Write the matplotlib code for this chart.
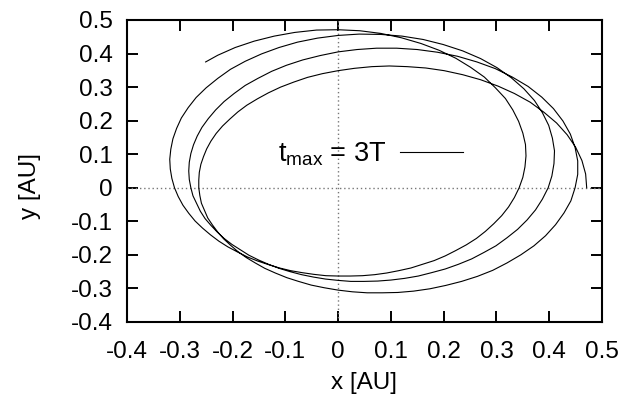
import numpy as np
import matplotlib
matplotlib.use("Agg")
import matplotlib.pyplot as plt

# Orbit trace, in milli-AU
orbit_x_mau = [471,469,462,450,434,414,390,364,334,303,270,236,201,166,131,97,64,31,0,-30,-58,-84,-109,-132,-153,-173,-190,-205,-219,-231,-241,-249,-255,-260,-263,-264,-264,-262,-259,-253,-247,-238,-228,-217,-204,-190,-174,-157,-139,-119,-97,-75,-51,-26,0,27,55,84,113,143,174,204,234,264,293,320,346,371,393,412,428,441,449,454,454,449,440,426,408,386,360,330,298,263,226,188,150,111,73,36,0,-34,-67,-98,-126,-152,-176,-197,-216,-232,-246,-258,-267,-274,-279,-282,-283,-282,-279,-275,-268,-261,-252,-241,-229,-216,-201,-185,-169,-151,-132,-112,-91,-69,-47,-24,0,24,49,75,100,126,152,177,203,228,253,276,299,320,340,358,374,387,398,405,409,410,406,399,387,372,352,328,301,270,236,199,161,121,81,40,0,-39,-77,-112,-145,-176,-204,-228,-250,-269,-284,-297,-306,-313,-317,-319,-318,-315,-310,-303,-294,-283,-271,-257,-242,-226,-209,-191,-172,-153,-132,-111,-90,-68,-46,-23,0,23,46,69,92,115,138,160,182,203,223,243,262,279,295,310,323,334,343,350,354,356,355,350,342,331,317,298,277,251,223,191,157,120,81,41,0,-41,-82,-121,-159,-195,-228,-251]
orbit_y_mau = [0,41,81,121,158,193,225,255,281,303,322,337,349,357,361,363,361,356,349,340,329,315,300,283,265,246,226,205,184,162,139,116,93,70,46,23,0,-23,-46,-68,-90,-111,-132,-152,-171,-190,-208,-224,-240,-254,-268,-279,-290,-298,-305,-310,-313,-313,-312,-308,-301,-291,-279,-264,-246,-224,-200,-173,-143,-110,-75,-39,0,40,80,120,160,199,236,270,302,330,355,375,392,404,412,416,416,412,405,394,381,365,347,326,305,281,257,232,206,180,154,128,102,76,50,25,0,-24,-47,-70,-92,-112,-132,-151,-169,-185,-201,-215,-228,-240,-250,-259,-266,-272,-276,-279,-279,-278,-275,-270,-263,-253,-242,-228,-212,-193,-173,-149,-124,-96,-66,-34,0,35,72,110,148,186,224,260,295,328,358,385,408,427,442,452,457,458,454,446,434,418,399,377,353,326,298,269,239,208,177,146,115,85,56,28,0,-26,-52,-76,-99,-120,-140,-159,-176,-191,-206,-218,-229,-239,-247,-253,-258,-262,-263,-263,-262,-259,-254,-247,-239,-228,-217,-203,-187,-170,-151,-130,-107,-83,-57,-29,0,31,62,95,129,163,198,232,266,298,330,359,386,410,430,447,460,468,471,470,463,452,437,418,395,375]

tick_values = [-0.4, -0.3, -0.2, -0.1, 0, 0.1, 0.2, 0.3, 0.4, 0.5]
tick_labels = ['-0.4', '-0.3', '-0.2', '-0.1', '0', '0.1', '0.2', '0.3', '0.4', '0.5']
series_label = r'$\mathrm{t_{max}}$ = 3T'

plt.rcParams['font.family'] = ['Liberation Sans', 'DejaVu Sans']
plt.rcParams['mathtext.fontset'] = 'custom'
plt.rcParams['mathtext.rm'] = 'Liberation Sans'
plt.rcParams['mathtext.it'] = 'Liberation Sans'

x_au = np.array(orbit_x_mau) / 1000.0
y_au = np.array(orbit_y_mau) / 1000.0

FS = 17.5
fig = plt.figure(figsize=(6.28, 4.04), dpi=100)
ax = fig.add_axes([127/628, 1-322/404, 475/628, 302/404])
ax.axhline(0, color='#777777', lw=1, ls=(0, (1, 2)))
ax.axvline(0, color='#777777', lw=1, ls=(0, (1, 2)))
ax.plot(x_au, y_au, color='black', lw=0.8, label=series_label)
ax.set_xlim(-0.4, 0.5)
ax.set_ylim(-0.4, 0.5)
ax.set_xticks(tick_values)
ax.set_yticks(tick_values)
ax.set_xticklabels(tick_labels)
ax.set_yticklabels(tick_labels)
ax.tick_params(direction='in', length=8, width=1.4, top=True, right=True, labelsize=FS)
ax.tick_params(axis='x', pad=14)
ax.tick_params(axis='y', pad=10)
for s in ax.spines.values():
    s.set_linewidth(1.5)
ax.set_xlabel('x [AU]', fontsize=FS)
ax.set_ylabel('y [AU]', fontsize=FS)
ax.xaxis.set_label_coords(0.499, -0.202)
ax.yaxis.set_label_coords(-0.204, 0.45)
ax.xaxis.label.set_verticalalignment('center')
ax.yaxis.label.set_verticalalignment('center')
ax.legend(loc='center right', bbox_to_anchor=(0.707, 0.556), markerfirst=False, frameon=False,
          handlelength=2.33, handletextpad=0.5, fontsize=19.5, borderaxespad=0, borderpad=0)
fig.savefig('out.png', dpi=100)
